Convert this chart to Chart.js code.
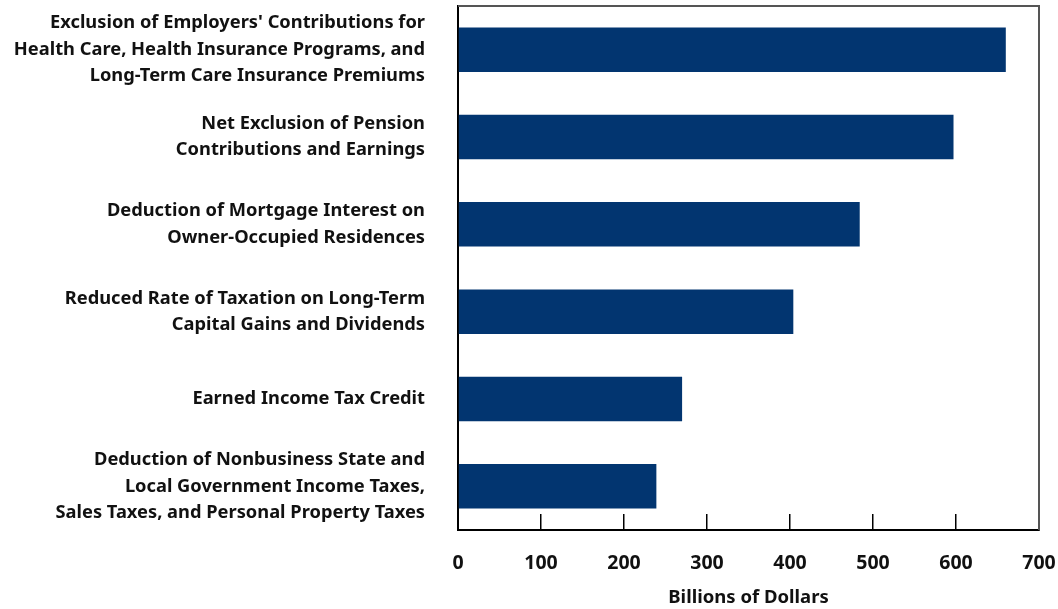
<!DOCTYPE html>
<html>
<head>
<meta charset="utf-8">
<script src="https://cdn.jsdelivr.net/npm/chart.js@4/dist/chart.umd.min.js"></script>
<style>
html,body{margin:0;padding:0;background:#fff;}
#wrap{width:1058px;height:609px;position:relative;}
</style>
</head>
<body>
<div id="wrap"><canvas id="c" width="1058" height="609"></canvas></div>
<script>
const categories = [
  ["Exclusion of Employers' Contributions for", "Health Care, Health Insurance Programs, and", "Long-Term Care Insurance Premiums"],
  ["Net Exclusion of Pension", "Contributions and Earnings"],
  ["Deduction of Mortgage Interest on", "Owner-Occupied Residences"],
  ["Reduced Rate of Taxation on Long-Term", "Capital Gains and Dividends"],
  ["Earned Income Tax Credit"],
  ["Deduction of Nonbusiness State and", "Local Government Income Taxes,", "Sales Taxes, and Personal Property Taxes"]
];
const values = [660, 597, 484, 404, 270, 239];
const xTicks = [0, 100, 200, 300, 400, 500, 600, 700];
const xTitle = "Billions of Dollars";

const frame = {
  id: 'frame',
  afterDraw(chart) {
    const {ctx, chartArea: a} = chart;
    ctx.save();
    ctx.strokeStyle = '#555';
    ctx.lineWidth = 2;
    ctx.beginPath();
    ctx.moveTo(a.left, a.top);
    ctx.lineTo(a.right, a.top);
    ctx.lineTo(a.right, a.bottom);
    ctx.stroke();
    ctx.restore();
  }
};

function noPad(scale) {
  scale.paddingTop = 0; scale.paddingBottom = 0;
  scale.paddingLeft = 0; scale.paddingRight = 0;
}

new Chart(document.getElementById('c'), {
  type: 'bar',
  data: {
    labels: categories,
    datasets: [{
      data: values,
      backgroundColor: '#023570',
      borderWidth: 0,
      barPercentage: 0.51,
      categoryPercentage: 1
    }]
  },
  plugins: [frame],
  options: {
    indexAxis: 'y',
    responsive: false,
    animation: false,
    devicePixelRatio: 1,
    layout: {padding: {left: 0, top: 6, right: 19, bottom: 0}},
    plugins: {legend: {display: false}, tooltip: {enabled: false}},
    scales: {
      x: {
        min: 0, max: 700,
        afterBuildTicks(scale) { scale.ticks = xTicks.map(v => ({value: v})); },
        afterFit(scale) { scale.height = 79; noPad(scale); },
        grid: {drawOnChartArea: false, drawTicks: true, tickLength: -16, color: '#000', lineWidth: 1.5},
        border: {display: true, color: '#000', width: 2},
        ticks: {
          padding: 38,
          autoSkip: false,
          maxRotation: 0,
          color: '#111',
          font: {family: '"Noto Sans", sans-serif', size: 19.5, weight: 'bold'}
        },
        title: {
          display: true, text: xTitle, color: '#111',
          font: {family: '"Noto Sans", sans-serif', size: 18.5, weight: 'bold'},
          padding: {top: 0, bottom: 0}
        }
      },
      y: {
        afterFit(scale) { scale.width = 458; noPad(scale); },
        grid: {display: false, drawTicks: false},
        border: {display: true, color: '#000', width: 2},
        ticks: {
          padding: 33,
          autoSkip: false,
          color: '#111',
          font: {family: '"Noto Sans", sans-serif', size: 18.3, weight: 'bold', lineHeight: 1.45}
        }
      }
    }
  }
});
</script>
</body>
</html>
